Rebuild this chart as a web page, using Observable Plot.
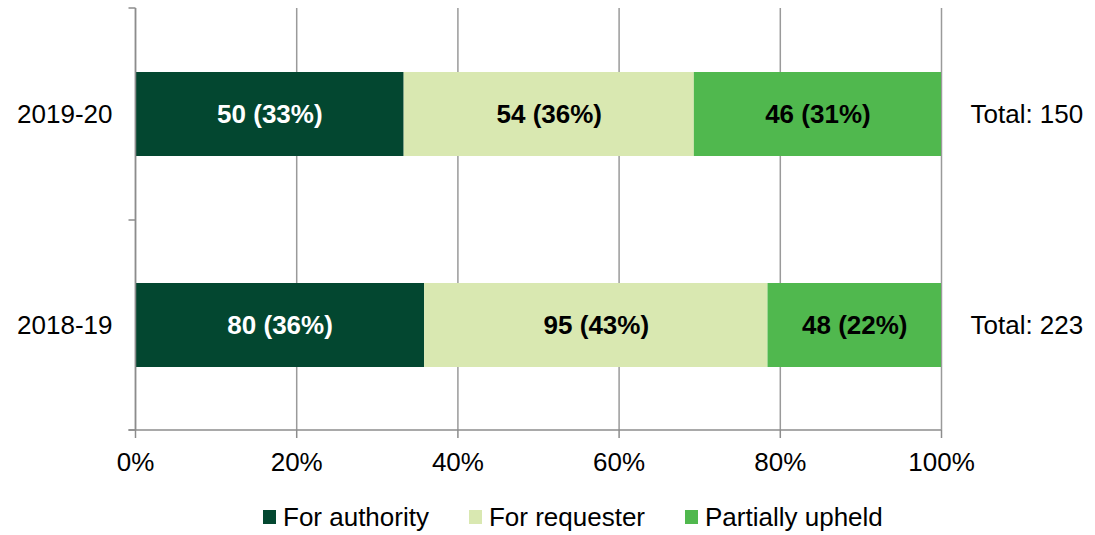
<!DOCTYPE html>
<html>
<head>
<meta charset="utf-8">
<script src="https://cdn.jsdelivr.net/npm/d3@7"></script>
<script src="https://cdn.jsdelivr.net/npm/@observablehq/plot@0.6"></script>
<style>
  html, body { margin: 0; padding: 0; background: #fff; }
  body { font-family: "Liberation Sans", Arial, sans-serif; width: 1095px; height: 535px; overflow: hidden; }
  #legend { height: 40px; display: flex; align-items: center; padding-top: 4px; box-sizing: border-box;
            padding-left: 263px; font-size: 26px; color: #000; }
  .item { display: flex; align-items: center; margin-right: 40px; }
  .sw { width: 13px; height: 14px; margin-right: 7px; }
</style>
</head>
<body>
<div id="chart"></div>
<div id="legend"></div>
<script>
// ---- data ----
const years = ["2019-20", "2018-19"];
const categories = ["For authority", "For requester", "Partially upheld"];
const counts2019_20 = [50, 54, 46];
const counts2018_19 = [80, 95, 48];
const colors = ["#034730", "#d9e8b1", "#50b84e"];
const labelColors = ["#ffffff", "#000000", "#000000"];
const xTicks = [0, 0.2, 0.4, 0.6, 0.8, 1];

const countsByYear = { "2019-20": counts2019_20, "2018-19": counts2018_19 };
const data = [];
for (const yr of years) {
  const c = countsByYear[yr];
  const total = d3.sum(c);
  categories.forEach((cat, i) => data.push({ year: yr, cat, count: c[i], total, ci: i }));
}
const totals = years.map(yr => ({ year: yr, total: d3.sum(countsByYear[yr]) }));

const AXIS = "#8c8c8c";
const GRID = "#9a9a9a";

function leftAxis(index, scales, values, dims) {
  const x = scales.x, y = scales.y;
  const x0 = Math.round(x(0)) + 0.5;
  const yTop = dims.marginTop;
  const yBot = dims.height - dims.marginBottom;
  const centers = years.map(d => y(d) + (y.bandwidth ? y.bandwidth() : 0) / 2);
  const bounds = [yTop];
  for (let i = 1; i < centers.length; i++) bounds.push(Math.round((centers[i - 1] + centers[i]) / 2));
  bounds.push(yBot);
  const g = d3.create("svg:g").attr("stroke", AXIS).attr("stroke-width", 1.5).attr("fill", "none");
  g.append("line").attr("x1", x0).attr("x2", x0).attr("y1", yTop).attr("y2", yBot);
  g.append("line").attr("x1", x0 - 7).attr("x2", x(1)).attr("y1", yBot).attr("y2", yBot);
  for (const b of bounds) {
    g.append("line").attr("x1", x0 - 7).attr("x2", x0).attr("y1", b).attr("y2", b);
  }
  return g.node();
}

const chart = Plot.plot({
  width: 1095,
  height: 495,
  marginLeft: 135,
  marginRight: 154,
  marginTop: 8,
  marginBottom: 65,
  style: { fontFamily: "'Liberation Sans', Arial, sans-serif", fontSize: "26px", color: "#000", background: "#fff" },
  x: { domain: [0, 1], label: null },
  y: { domain: years, paddingInner: 0.602, paddingOuter: 0.301, label: null },
  color: { type: "identity" },
  marks: [
    Plot.gridX(xTicks, { stroke: GRID, strokeOpacity: 1, strokeWidth: 1.5 }),
    Plot.barX(data, Plot.stackX({
      x: "count", y: "year", z: "cat", offset: "normalize",
      fill: d => colors[d.ci]
    })),
    Plot.text(data, Plot.stackX({
      x: "count", y: "year", z: "cat", offset: "normalize",
      text: d => `${d.count} (${Math.round(100 * d.count / d.total)}%)`,
      fill: d => labelColors[d.ci],
      fontWeight: "bold", fontSize: 26
    })),
    Plot.text(totals, {
      y: "year", frameAnchor: "right", dx: 29, textAnchor: "start",
      text: d => `Total: ${d.total}`, fontSize: 26, fill: "#000"
    }),
    Plot.axisX(xTicks, {
      tickFormat: d3.format(".0%"), tickSize: 8, tickPadding: 14,
      stroke: AXIS, strokeWidth: 1.5, fontSize: 26, label: null
    }),
    Plot.axisY({ tickSize: 0, tickPadding: 23, fontSize: 26, label: null }),
    leftAxis
  ]
});
document.getElementById("chart").appendChild(chart);

const legend = d3.select("#legend");
categories.forEach((cat, i) => {
  const it = legend.append("div").attr("class", "item");
  it.append("div").attr("class", "sw").style("background", colors[i]);
  it.append("span").text(cat);
});
</script>
</body>
</html>
